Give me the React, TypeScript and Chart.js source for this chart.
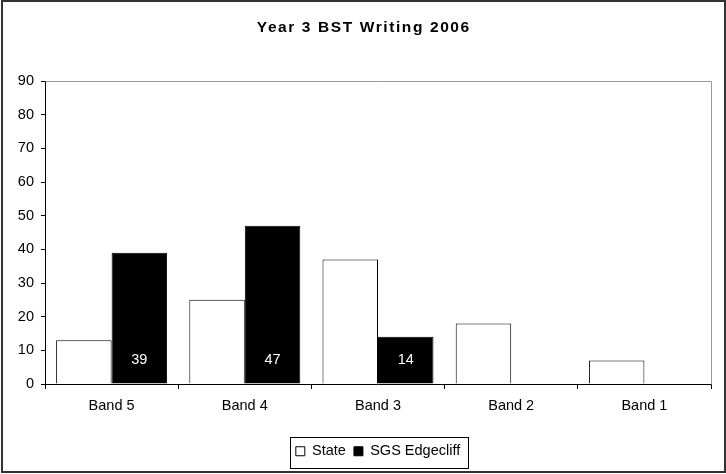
import React, { useEffect, useRef } from "react";
import { Chart, registerables } from "chart.js";

Chart.register(...registerables);

const TITLE = "Year 3 BST Writing 2006";
const CATEGORIES = ["Band 5", "Band 4", "Band 3", "Band 2", "Band 1"];
const STATE_VALUES = [13, 25, 37, 18, 7];
const SGS_VALUES = [39, 47, 14, 0, 0];
const SERIES_NAMES = ["State", "SGS Edgecliff"];
const Y_MIN = 0;
const Y_MAX = 90;
const Y_STEP = 10;

const FONT = "'Liberation Sans', Arial, sans-serif";
const TXT = 14.5;
const TITLE_SIZE = 15.5;
const TITLE_PAD_TOP = 18;

const framePlugin = {
  id: "frame",
  afterDraw(chart: any) {
    const ctx = chart.ctx;
    const a = chart.chartArea;
    ctx.save();

    // title with Excel-like letter spacing
    ctx.fillStyle = "#000000";
    ctx.font = "bold " + TITLE_SIZE + "px " + FONT;
    ctx.textAlign = "center";
    ctx.textBaseline = "middle";
    (ctx as any).letterSpacing = "1.6px";
    const tb = chart.titleBlock;
    const ty = (tb ? tb.top : 0) + TITLE_PAD_TOP + (TITLE_SIZE * 1.2) / 2;
    ctx.fillText(TITLE, chart.width / 2 + 0.8, ty);
    (ctx as any).letterSpacing = "0px";

    // plot area top/right border (grey)
    ctx.strokeStyle = "#9a9a9a";
    ctx.lineWidth = 1;
    ctx.beginPath();
    ctx.moveTo(Math.round(a.left) + 0.5, Math.round(a.top) + 0.5);
    ctx.lineTo(Math.round(a.right) + 0.5, Math.round(a.top) + 0.5);
    ctx.lineTo(Math.round(a.right) + 0.5, Math.round(a.bottom) + 0.5);
    ctx.stroke();

    // data labels inside SGS bars
    const meta = chart.getDatasetMeta(1);
    ctx.fillStyle = "#ffffff";
    ctx.font = TXT + "px " + FONT;
    ctx.textAlign = "center";
    ctx.textBaseline = "middle";
    meta.data.forEach((bar: any, i: number) => {
      const v = chart.data.datasets[1].data[i];
      if (!v) return;
      ctx.fillText(String(v), bar.x, bar.base - 24);
    });

    // legend border
    const lg = chart.legend;
    if (lg && lg.legendHitBoxes && lg.legendHitBoxes.length) {
      let l = Infinity, r = -Infinity, t = Infinity, b = -Infinity;
      lg.legendHitBoxes.forEach((h: any) => {
        l = Math.min(l, h.left);
        r = Math.max(r, h.left + h.width);
        t = Math.min(t, h.top);
        b = Math.max(b, h.top + h.height);
      });
      const x0 = Math.round(l - 6) + 0.5;
      const y0 = Math.round(t - 7) + 0.5;
      const x1 = Math.round(r + 8) + 0.5;
      const y1 = Math.round(b + 9) + 0.5;
      ctx.strokeStyle = "#000000";
      ctx.lineWidth = 1;
      ctx.strokeRect(x0, y0, x1 - x0, y1 - y0);
    }

    // outer border
    ctx.strokeStyle = "#333333";
    ctx.lineWidth = 2;
    ctx.strokeRect(2, 1, chart.width - 3, chart.height - 3);
    ctx.restore();
  },
};

export default function App() {
  const ref = useRef<HTMLCanvasElement | null>(null);

  useEffect(() => {
    if (!ref.current) return;
    const chart = new Chart(ref.current, {
      type: "bar",
      data: {
        labels: CATEGORIES,
        datasets: [
          {
            label: SERIES_NAMES[0],
            data: STATE_VALUES,
            backgroundColor: "#ffffff",
            borderColor: "#000000",
            borderWidth: 1,
            categoryPercentage: 0.833,
            barPercentage: 1,
          },
          {
            label: SERIES_NAMES[1],
            data: SGS_VALUES,
            backgroundColor: "#000000",
            borderColor: "#000000",
            borderWidth: 1,
            categoryPercentage: 0.833,
            barPercentage: 1,
          },
        ],
      },
      options: {
        responsive: false,
        animation: false,
        layout: { padding: { top: 0, left: 0, right: 15, bottom: 5.5 } },
        scales: {
          x: {
            grid: {
              offset: true,
              drawOnChartArea: false,
              drawTicks: true,
              tickLength: 5,
              color: "#000000",
            },
            border: { color: "#000000", width: 1 },
            ticks: { color: "#000000", font: { family: FONT, size: TXT }, padding: 8 },
            afterFit(scale: any) {
              scale.height = 52;
            },
          },
          y: {
            min: Y_MIN,
            max: Y_MAX,
            grid: {
              drawOnChartArea: false,
              drawTicks: true,
              tickLength: 4,
              color: "#000000",
            },
            border: { color: "#000000", width: 1 },
            ticks: {
              stepSize: Y_STEP,
              color: "#000000",
              font: { family: FONT, size: TXT },
              padding: 7,
            },
            afterFit(scale: any) {
              scale.width = 45;
            },
          },
        },
        plugins: {
          title: {
            display: true,
            text: TITLE,
            color: "rgba(0,0,0,0)",
            font: { family: FONT, size: TITLE_SIZE, weight: "bold" },
            padding: { top: TITLE_PAD_TOP, bottom: 44.4 },
          },
          legend: {
            position: "bottom",
            fullSize: false,
            labels: {
              color: "#000000",
              font: { family: FONT, size: TXT },
              boxWidth: 9,
              boxHeight: 9,
              padding: 8,
            },
          },
          tooltip: { enabled: false },
        },
      },
      plugins: [framePlugin],
    });
    return () => chart.destroy();
  }, []);

  return (
    <div style={{ position: "absolute", left: 0, top: 0, width: 726, height: 474, background: "#fff" }}>
      <canvas ref={ref} width={726} height={474} />
    </div>
  );
}
